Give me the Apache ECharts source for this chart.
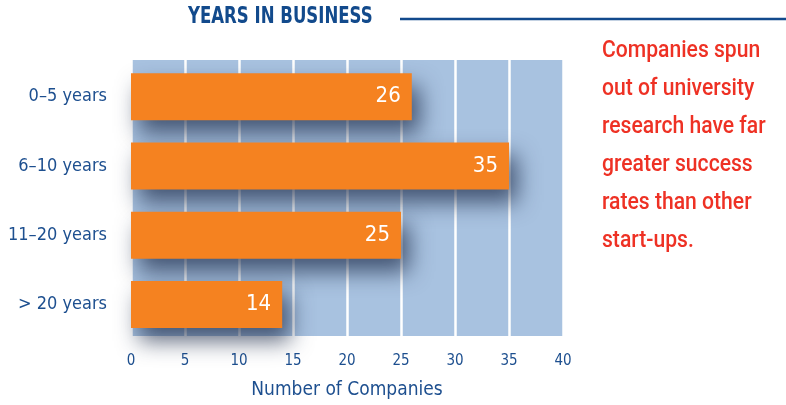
<!DOCTYPE html>
<html>
<head>
<meta charset="utf-8">
<script src="https://cdn.jsdelivr.net/npm/echarts@6/dist/echarts.min.js"></script>
<style>
  html, body { margin: 0; padding: 0; background: #fff; }
  #chart { width: 786px; height: 405px; }
</style>
</head>
<body>
<div id="chart"></div>
<script>
const categories = ["0\u20135 years", "6\u201310 years", "11\u201320 years", "> 20 years"];
const companies = [26, 35, 25, 14];
const xTicks = [0, 5, 10, 15, 20, 25, 30, 35, 40];

const narrow = "'DejaVu Sans Condensed', 'Liberation Sans', sans-serif";
const blue = "#1d4f8f";

const chart = echarts.init(document.getElementById("chart"));

chart.setOption({
  animation: false,
  grid: [
    // background panel with white gridlines
    {left: 131, width: 432, top: 60, height: 285, show: true, backgroundColor: "#a8c2e0", borderWidth: 0},
    // bars
    {left: 131, width: 432, top: 62, height: 277}
  ],
  graphic: [
    {
      type: "text", x: 188, y: 6, scaleX: 0.8,
      style: {text: "YEARS IN BUSINESS", font: "bold 23px " + narrow, fill: "#124a8c"}
    },
    {type: "line", shape: {x1: 400, y1: 19, x2: 786, y2: 19}, style: {stroke: "#124a8c", lineWidth: 2.5}},
    {
      type: "text", x: 602, y: 32, scaleX: 0.88,
      style: {
        text: "Companies spun\nout of university\nresearch have far\ngreater success\nrates than other\nstart-ups.",
        font: "500 24px Roboto, sans-serif",
        lineHeight: 38,
        fill: "#ee3124"
      }
    }
  ],
  xAxis: [
    {
      gridIndex: 0, type: "value", min: 0, max: 40, interval: 5,
      axisLine: {show: false}, axisTick: {show: false},
      splitLine: {show: true, lineStyle: {color: "#ffffff", width: 2.5}},
      axisLabel: {color: blue, fontFamily: narrow, fontSize: 15, margin: 18,
        formatter: v => xTicks.includes(v) ? String(v) : ""},
      name: "Number of Companies", nameLocation: "middle", nameGap: 45,
      nameTextStyle: {color: blue, fontFamily: narrow, fontSize: 19}
    },
    {
      gridIndex: 1, type: "value", min: 0, max: 40, interval: 5,
      show: false
    }
  ],
  yAxis: [
    {gridIndex: 0, type: "category", data: categories, show: false},
    {
      gridIndex: 1, type: "category", data: categories, inverse: true,
      axisLine: {show: false}, axisTick: {show: false}, splitLine: {show: false},
      axisLabel: {color: blue, fontFamily: narrow, fontSize: 18, margin: 24}
    }
  ],
  series: [
    {
      type: "bar", xAxisIndex: 1, yAxisIndex: 1,
      data: companies,
      barWidth: 47,
      itemStyle: {
        color: "#f58220",
        shadowColor: "rgba(25, 40, 70, 0.7)",
        shadowBlur: 22, shadowOffsetX: 8, shadowOffsetY: 13
      },
      label: {
        show: true, position: "insideRight", distance: 11,
        color: "#ffffff", fontFamily: narrow, fontSize: 22
      }
    }
  ]
});
</script>
</body>
</html>
